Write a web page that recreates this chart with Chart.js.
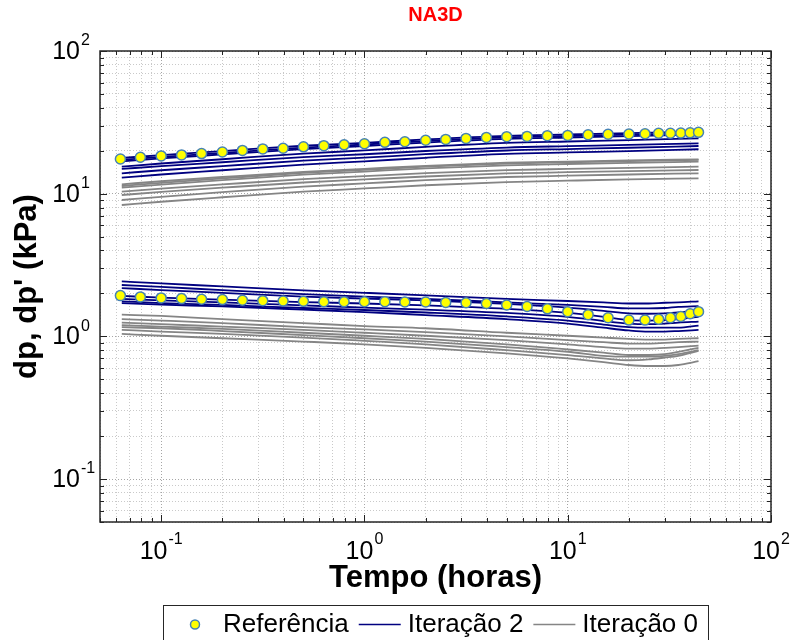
<!DOCTYPE html>
<html>
<head>
<meta charset="utf-8">
<script src="https://cdn.jsdelivr.net/npm/chart.js@4.4.1/dist/chart.umd.min.js"></script>
<style>
  html, body { margin: 0; padding: 0; background: #fff; }
  canvas { display: block; }
</style>
</head>
<body>
<canvas id="grafico" width="793" height="640"></canvas>
<script>
// Pontos de referência (marcadores amarelos)
const REF_X = [0.063, 0.079, 0.1, 0.126, 0.158, 0.2, 0.251, 0.316, 0.398, 0.501, 0.631, 0.794,
  1, 1.26, 1.58, 2, 2.51, 3.16, 3.98, 5.01, 6.31, 7.94, 10, 12.6, 15.8, 20, 24, 28, 32, 36, 40, 44];
const REF_SUPERIOR = [17.5, 18.0, 18.4, 18.7, 19.1, 19.6, 20.1, 20.6, 20.8, 21.3, 21.7, 22.0,
  22.4, 22.9, 23.1, 23.7, 24.0, 24.4, 24.8, 25.1, 25.2, 25.5, 25.6, 25.9, 26.1, 26.2, 26.3, 26.5, 26.5, 26.6, 26.7, 26.9];
const REF_INFERIOR = [1.93, 1.89, 1.86, 1.84, 1.82, 1.81, 1.79, 1.78, 1.77, 1.76, 1.75, 1.75,
  1.75, 1.75, 1.74, 1.74, 1.73, 1.72, 1.70, 1.66, 1.62, 1.56, 1.49, 1.42, 1.35, 1.30, 1.30, 1.32, 1.35, 1.38, 1.44, 1.49];

// Tempos das curvas simuladas
const X_CURVA_SUP = [0.064, 0.1, 0.2, 0.5, 1, 2, 5, 10, 20, 44];
const X_CURVA_INF = [0.064, 0.1, 0.2, 0.5, 1, 2, 5, 10, 15, 20, 25, 30, 35, 44];

// Iteração 2 (azul) - dp'
const IT2_SUP = [
  [17.79, 18.66, 19.90, 21.67, 22.73, 24.00, 25.43, 26.01, 26.55, 27.29],
  [17.23, 18.09, 19.31, 21.06, 22.11, 23.37, 24.78, 25.36, 25.90, 26.63],
  [16.82, 17.66, 18.85, 20.55, 21.58, 22.81, 24.19, 24.76, 25.28, 26.00],
  [15.46, 16.28, 17.43, 19.10, 20.10, 21.30, 22.67, 23.22, 23.74, 24.44],
  [14.90, 15.61, 16.61, 18.04, 18.90, 19.92, 21.06, 21.53, 21.96, 22.55],
  [13.90, 14.60, 15.60, 17.03, 17.89, 18.92, 20.08, 20.55, 20.99, 21.59],
  [12.95, 13.63, 14.60, 15.99, 16.84, 17.84, 18.98, 19.45, 19.88, 20.48]
];
// Iteração 2 (azul) - dp
const IT2_INF = [
  [2.43, 2.35, 2.24, 2.10, 2.02, 1.94, 1.83, 1.77, 1.73, 1.70, 1.70, 1.72, 1.73, 1.76],
  [2.29, 2.22, 2.11, 1.98, 1.90, 1.83, 1.73, 1.66, 1.61, 1.57, 1.57, 1.58, 1.61, 1.63],
  [2.18, 2.11, 2.02, 1.90, 1.84, 1.79, 1.69, 1.59, 1.51, 1.45, 1.44, 1.45, 1.47, 1.52],
  [1.92, 1.87, 1.81, 1.74, 1.70, 1.65, 1.56, 1.46, 1.37, 1.30, 1.29, 1.30, 1.32, 1.37],
  [1.83, 1.79, 1.73, 1.65, 1.59, 1.54, 1.46, 1.37, 1.28, 1.23, 1.22, 1.23, 1.25, 1.27],
  [1.76, 1.71, 1.66, 1.58, 1.53, 1.47, 1.38, 1.29, 1.21, 1.16, 1.15, 1.15, 1.15, 1.19],
  [1.71, 1.67, 1.62, 1.54, 1.48, 1.41, 1.32, 1.23, 1.15, 1.10, 1.08, 1.08, 1.09, 1.11]
];

// Iteração 0 (cinza) - dp'
const IT0_SUP = [
  [11.64, 12.22, 13.09, 14.24, 14.94, 15.68, 16.47, 16.80, 17.11, 17.42],
  [11.32, 11.91, 12.79, 13.97, 14.69, 15.45, 16.25, 16.59, 16.90, 17.23],
  [11.02, 11.59, 12.44, 13.59, 14.29, 15.03, 15.80, 16.14, 16.44, 16.76],
  [10.33, 10.84, 11.61, 12.64, 13.26, 13.92, 14.61, 14.91, 15.18, 15.46],
  [9.79, 10.28, 11.01, 11.98, 12.58, 13.20, 13.86, 14.14, 14.40, 14.66],
  [9.03, 9.51, 10.24, 11.21, 11.80, 12.43, 13.09, 13.37, 13.63, 13.90],
  [8.33, 8.78, 9.44, 10.34, 10.88, 11.46, 12.07, 12.33, 12.58, 12.82]
];
// Iteração 0 (cinza) - dp
const IT0_INF = [
  [1.42, 1.39, 1.32, 1.24, 1.18, 1.14, 1.06, 1.01, 0.98, 0.96, 0.95, 0.95, 0.96, 0.97],
  [1.32, 1.29, 1.24, 1.16, 1.12, 1.07, 1.00, 0.94, 0.91, 0.89, 0.89, 0.90, 0.91, 0.92],
  [1.25, 1.22, 1.17, 1.11, 1.06, 1.01, 0.94, 0.88, 0.84, 0.82, 0.82, 0.83, 0.84, 0.86],
  [1.20, 1.17, 1.13, 1.06, 1.01, 0.96, 0.88, 0.81, 0.77, 0.74, 0.74, 0.75, 0.78, 0.83],
  [1.16, 1.14, 1.09, 1.02, 0.97, 0.92, 0.84, 0.78, 0.73, 0.72, 0.72, 0.73, 0.75, 0.80],
  [1.11, 1.08, 1.04, 0.98, 0.93, 0.88, 0.80, 0.74, 0.70, 0.68, 0.69, 0.71, 0.73, 0.79],
  [1.04, 1.01, 0.97, 0.92, 0.88, 0.83, 0.76, 0.70, 0.66, 0.63, 0.62, 0.62, 0.63, 0.67]
];

// Grade log e rótulos 10^n
const GRADE = [0.05, 0.06, 0.07, 0.08, 0.09, 0.1, 0.2, 0.3, 0.4, 0.5, 0.6, 0.7, 0.8, 0.9,
  1, 2, 3, 4, 5, 6, 7, 8, 9, 10, 20, 30, 40, 50, 60, 70, 80, 90, 100];
const DECADAS = [0.1, 1, 10, 100];
const EXPOENTES = ['-1', '0', '1', '2'];
const LEGENDA = ['Referência', 'Iteração 2', 'Iteração 0'];
const TITULO = 'NA3D';

const FONTE = '"Liberation Sans", Arial, Helvetica, sans-serif';
const AZUL = '#000080';
const CINZA = '#858585';

const pontos = (xs, ys) => xs.map((x, i) => ({ x: x, y: ys[i] }));

const marcador = {
  showLine: false,
  pointRadius: 5,
  pointBackgroundColor: '#ffff00',
  pointBorderColor: '#4682b4',
  pointBorderWidth: 1.5
};
const curva = (cor) => ({
  showLine: true,
  borderColor: cor,
  borderWidth: 1.8,
  pointRadius: 0,
  cubicInterpolationMode: 'monotone'
});

// primeiro da lista fica por cima
const datasets = [
  { label: LEGENDA[0], data: pontos(REF_X, REF_SUPERIOR), ...marcador },
  { label: LEGENDA[0], data: pontos(REF_X, REF_INFERIOR), ...marcador },
  ...IT2_SUP.map(ys => ({ label: LEGENDA[1], data: pontos(X_CURVA_SUP, ys), ...curva(AZUL) })),
  ...IT2_INF.map(ys => ({ label: LEGENDA[1], data: pontos(X_CURVA_INF, ys), ...curva(AZUL) })),
  ...IT0_SUP.map(ys => ({ label: LEGENDA[2], data: pontos(X_CURVA_SUP, ys), ...curva(CINZA) })),
  ...IT0_INF.map(ys => ({ label: LEGENDA[2], data: pontos(X_CURVA_INF, ys), ...curva(CINZA) }))
];

const eixoLog = (titulo, tituloPad) => ({
  type: 'logarithmic',
  min: 0.05,
  max: 100,
  bounds: 'data',
  afterBuildTicks: (scale) => {
    scale.ticks = GRADE.map(v => ({ value: v, major: DECADAS.includes(v) }));
  },
  ticks: { display: false },
  grid: {
    drawTicks: false,
    lineWidth: 1,
    color: (c) => (c.tick && c.tick.major) ? '#a6a6a6' : '#c9c9c9'
  },
  border: { display: false, dash: [1, 2] },
  title: {
    display: true,
    text: titulo,
    color: '#000',
    font: { family: FONTE, size: 31, weight: 'bold' },
    padding: tituloPad
  }
});

// Título, moldura, marcas internas, rótulos 10^n e legenda
const moldura = {
  id: 'moldura',
  afterDraw(chart) {
    const { ctx, chartArea: a, scales: { x, y } } = chart;
    ctx.save();

    // título centrado na área do gráfico
    ctx.fillStyle = '#ff0000';
    ctx.font = 'bold 20px ' + FONTE;
    ctx.textAlign = 'center';
    ctx.textBaseline = 'middle';
    ctx.fillText(TITULO, (a.left + a.right) / 2, 15);

    // marcas internas nos quatro lados
    ctx.strokeStyle = '#222';
    ctx.lineWidth = 1;
    ctx.beginPath();
    x.ticks.forEach(t => {
      const px = Math.round(x.getPixelForValue(t.value)) + 0.5;
      const len = t.major ? 7 : 4;
      ctx.moveTo(px, a.bottom); ctx.lineTo(px, a.bottom - len);
      ctx.moveTo(px, a.top); ctx.lineTo(px, a.top + len);
    });
    y.ticks.forEach(t => {
      const py = Math.round(y.getPixelForValue(t.value)) + 0.5;
      const len = t.major ? 7 : 4;
      ctx.moveTo(a.left, py); ctx.lineTo(a.left + len, py);
      ctx.moveTo(a.right, py); ctx.lineTo(a.right - len, py);
    });
    ctx.stroke();

    // caixa
    ctx.strokeStyle = '#262626';
    ctx.lineWidth = 1.5;
    ctx.strokeRect(a.left, a.top, a.right - a.left, a.bottom - a.top);

    // rótulos 10^n
    ctx.fillStyle = '#000';
    ctx.textBaseline = 'middle';
    const fBase = '25px ' + FONTE;
    const fExp = '16px ' + FONTE;
    DECADAS.forEach((v, i) => {
      const e = EXPOENTES[i];
      ctx.font = fBase;
      const wb = ctx.measureText('10').width;
      ctx.font = fExp;
      const we = ctx.measureText(e).width;
      // eixo x
      const px = x.getPixelForValue(v);
      const x0 = px - (wb + 1 + we) / 2;
      ctx.textAlign = 'left';
      ctx.font = fBase;
      ctx.fillText('10', x0, a.bottom + 30);
      ctx.font = fExp;
      ctx.fillText(e, x0 + wb + 1, a.bottom + 18);
      // eixo y
      const py = y.getPixelForValue(v);
      ctx.font = fBase;
      ctx.textAlign = 'right';
      ctx.fillText('10', a.left - 20, py + 1);
      ctx.font = fExp;
      ctx.textAlign = 'left';
      ctx.fillText(e, a.left - 19, py - 10);
    });

    // legenda
    ctx.font = '26px ' + FONTE;
    const amostra = 42, folga = 7, entre = 10, margem = 10.5;
    const larguras = LEGENDA.map(t => ctx.measureText(t).width);
    const total = margem * 2 + LEGENDA.length * (amostra + folga) +
      larguras.reduce((s, w) => s + w, 0) + entre * (LEGENDA.length - 1);
    const bx = Math.round((a.left + a.right) / 2 - total / 2) + 0.5;
    const by = Math.round(a.bottom + 83) + 0.5;
    const meio = by + 19;
    ctx.fillStyle = '#fff';
    ctx.fillRect(bx, by, total, 60);
    ctx.strokeStyle = '#262626';
    ctx.lineWidth = 1;
    ctx.strokeRect(bx, by, total, 60);

    let lx = bx + margem;
    LEGENDA.forEach((txt, i) => {
      if (i === 0) {
        ctx.beginPath();
        ctx.arc(lx + amostra / 2, meio, 4.5, 0, Math.PI * 2);
        ctx.fillStyle = marcador.pointBackgroundColor;
        ctx.fill();
        ctx.lineWidth = marcador.pointBorderWidth;
        ctx.strokeStyle = marcador.pointBorderColor;
        ctx.stroke();
      } else {
        ctx.beginPath();
        ctx.moveTo(lx, meio);
        ctx.lineTo(lx + amostra, meio);
        ctx.lineWidth = 1.5;
        ctx.strokeStyle = i === 1 ? AZUL : CINZA;
        ctx.stroke();
      }
      ctx.fillStyle = '#000';
      ctx.textAlign = 'left';
      ctx.fillText(txt, lx + amostra + folga, meio);
      lx += amostra + folga + larguras[i] + entre;
    });

    ctx.restore();
  }
};

new Chart(document.getElementById('grafico'), {
  type: 'scatter',
  data: { datasets: datasets },
  options: {
    responsive: false,
    animation: false,
    events: [],
    layout: { padding: { left: 0, right: 22, top: 51, bottom: 40 } },
    plugins: {
      legend: { display: false },
      tooltip: { enabled: false },
      title: { display: false }
    },
    scales: {
      x: eixoLog('Tempo (horas)', { top: 37.4, bottom: 3.4 }),
      y: eixoLog("dp, dp' (kPa)", { top: 8.4, bottom: 54.4 })
    }
  },
  plugins: [moldura]
});
</script>
</body>
</html>
